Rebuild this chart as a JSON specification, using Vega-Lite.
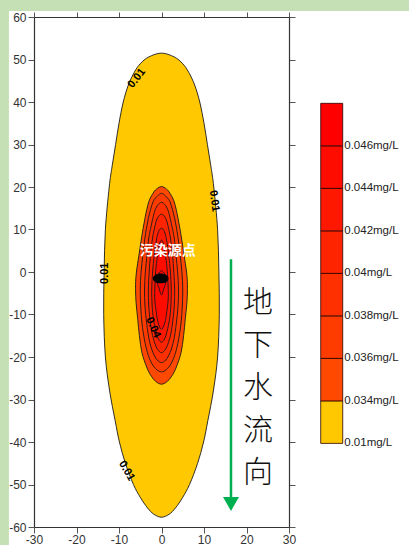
{
  "$schema": "https://vega.github.io/schema/vega-lite/v6.json",
  "width": 255,
  "height": 510,
  "autosize": "none",
  "padding": {"left": 34, "top": 17, "right": 120, "bottom": 18},
  "background": "#C5E0B4",
  "config": {"view": {"stroke": null}},
  "datasets": {
    "iso": [
      {"c": "0.01", "x": 0, "y": 51.5}, {"c": "0.01", "x": 3.0, "y": 50.6}, {"c": "0.01", "x": 5.0, "y": 49.0}, {"c": "0.01", "x": 6.4, "y": 47.0},
      {"c": "0.01", "x": 7.8, "y": 44.0}, {"c": "0.01", "x": 9.0, "y": 40.0}, {"c": "0.01", "x": 10.0, "y": 35.0}, {"c": "0.01", "x": 10.8, "y": 30.0},
      {"c": "0.01", "x": 11.6, "y": 25.0}, {"c": "0.01", "x": 12.3, "y": 20.0}, {"c": "0.01", "x": 13.2, "y": 10.0}, {"c": "0.01", "x": 13.5, "y": 0},
      {"c": "0.01", "x": 13.6, "y": -10}, {"c": "0.01", "x": 13.2, "y": -20}, {"c": "0.01", "x": 12.2, "y": -28}, {"c": "0.01", "x": 10.9, "y": -35},
      {"c": "0.01", "x": 9.9, "y": -40}, {"c": "0.01", "x": 8.5, "y": -45}, {"c": "0.01", "x": 6.6, "y": -50}, {"c": "0.01", "x": 5.0, "y": -53},
      {"c": "0.01", "x": 3.3, "y": -55.5}, {"c": "0.01", "x": 1.8, "y": -57}, {"c": "0.01", "x": 0, "y": -57.7},
      {"c": "0.01", "x": -1.8, "y": -57}, {"c": "0.01", "x": -3.3, "y": -55.5}, {"c": "0.01", "x": -5.0, "y": -53}, {"c": "0.01", "x": -6.6, "y": -50},
      {"c": "0.01", "x": -8.5, "y": -45}, {"c": "0.01", "x": -9.9, "y": -40}, {"c": "0.01", "x": -10.9, "y": -35}, {"c": "0.01", "x": -12.2, "y": -28},
      {"c": "0.01", "x": -13.2, "y": -20}, {"c": "0.01", "x": -13.6, "y": -10}, {"c": "0.01", "x": -13.5, "y": 0}, {"c": "0.01", "x": -13.2, "y": 10},
      {"c": "0.01", "x": -12.3, "y": 20}, {"c": "0.01", "x": -11.6, "y": 25}, {"c": "0.01", "x": -10.8, "y": 30}, {"c": "0.01", "x": -10.0, "y": 35},
      {"c": "0.01", "x": -9.0, "y": 40}, {"c": "0.01", "x": -7.8, "y": 44.0}, {"c": "0.01", "x": -6.4, "y": 47.0}, {"c": "0.01", "x": -5.0, "y": 49.0},
      {"c": "0.01", "x": -3.0, "y": 50.6},

      {"c": "0.034", "x": 0, "y": 20.1}, {"c": "0.034", "x": 1.2, "y": 19.5}, {"c": "0.034", "x": 2.0, "y": 18.5}, {"c": "0.034", "x": 3.0, "y": 16.5},
      {"c": "0.034", "x": 3.9, "y": 12.6}, {"c": "0.034", "x": 4.7, "y": 8}, {"c": "0.034", "x": 5.3, "y": 4}, {"c": "0.034", "x": 5.9, "y": 0},
      {"c": "0.034", "x": 6.1, "y": -3}, {"c": "0.034", "x": 6.0, "y": -7}, {"c": "0.034", "x": 5.6, "y": -11}, {"c": "0.034", "x": 5.2, "y": -15},
      {"c": "0.034", "x": 4.6, "y": -19}, {"c": "0.034", "x": 3.4, "y": -22.6}, {"c": "0.034", "x": 2.4, "y": -24.5}, {"c": "0.034", "x": 1.3, "y": -25.8},
      {"c": "0.034", "x": 0, "y": -26.4},
      {"c": "0.034", "x": -1.3, "y": -25.8}, {"c": "0.034", "x": -2.4, "y": -24.5}, {"c": "0.034", "x": -3.4, "y": -22.6}, {"c": "0.034", "x": -4.6, "y": -19},
      {"c": "0.034", "x": -5.2, "y": -15}, {"c": "0.034", "x": -5.6, "y": -11}, {"c": "0.034", "x": -6.0, "y": -7}, {"c": "0.034", "x": -6.1, "y": -3},
      {"c": "0.034", "x": -5.9, "y": 0}, {"c": "0.034", "x": -5.3, "y": 4}, {"c": "0.034", "x": -4.7, "y": 8}, {"c": "0.034", "x": -3.9, "y": 12.6},
      {"c": "0.034", "x": -3.0, "y": 16.5}, {"c": "0.034", "x": -2.0, "y": 18.5}, {"c": "0.034", "x": -1.2, "y": 19.5},

      {"c": "0.036", "x": 0, "y": 18.5}, {"c": "0.036", "x": 1.0, "y": 17.8}, {"c": "0.036", "x": 2.0, "y": 16.5}, {"c": "0.036", "x": 3.1, "y": 12.6},
      {"c": "0.036", "x": 3.9, "y": 8}, {"c": "0.036", "x": 4.4, "y": 4}, {"c": "0.036", "x": 4.8, "y": 0}, {"c": "0.036", "x": 5.0, "y": -4},
      {"c": "0.036", "x": 4.9, "y": -8}, {"c": "0.036", "x": 4.6, "y": -12}, {"c": "0.036", "x": 4.0, "y": -16}, {"c": "0.036", "x": 3.3, "y": -19},
      {"c": "0.036", "x": 2.3, "y": -21.5}, {"c": "0.036", "x": 1.1, "y": -23}, {"c": "0.036", "x": 0, "y": -23.5},
      {"c": "0.036", "x": -1.1, "y": -23}, {"c": "0.036", "x": -2.3, "y": -21.5}, {"c": "0.036", "x": -3.3, "y": -19}, {"c": "0.036", "x": -4.0, "y": -16},
      {"c": "0.036", "x": -4.6, "y": -12}, {"c": "0.036", "x": -4.9, "y": -8}, {"c": "0.036", "x": -5.0, "y": -4}, {"c": "0.036", "x": -4.8, "y": 0},
      {"c": "0.036", "x": -4.4, "y": 4}, {"c": "0.036", "x": -3.9, "y": 8}, {"c": "0.036", "x": -3.1, "y": 12.6}, {"c": "0.036", "x": -2.0, "y": 16.5},
      {"c": "0.036", "x": -1.0, "y": 17.8},

      {"c": "0.038", "x": 0, "y": 16.4}, {"c": "0.038", "x": 1.0, "y": 15.6}, {"c": "0.038", "x": 1.7, "y": 14}, {"c": "0.038", "x": 2.4, "y": 11},
      {"c": "0.038", "x": 3.0, "y": 8}, {"c": "0.038", "x": 3.4, "y": 4}, {"c": "0.038", "x": 3.8, "y": 0}, {"c": "0.038", "x": 4.0, "y": -4},
      {"c": "0.038", "x": 3.9, "y": -8}, {"c": "0.038", "x": 3.5, "y": -12}, {"c": "0.038", "x": 2.9, "y": -16}, {"c": "0.038", "x": 2.0, "y": -19},
      {"c": "0.038", "x": 1.0, "y": -20.7}, {"c": "0.038", "x": 0, "y": -21.3},
      {"c": "0.038", "x": -1.0, "y": -20.7}, {"c": "0.038", "x": -2.0, "y": -19}, {"c": "0.038", "x": -2.9, "y": -16}, {"c": "0.038", "x": -3.5, "y": -12},
      {"c": "0.038", "x": -3.9, "y": -8}, {"c": "0.038", "x": -4.0, "y": -4}, {"c": "0.038", "x": -3.8, "y": 0}, {"c": "0.038", "x": -3.4, "y": 4},
      {"c": "0.038", "x": -3.0, "y": 8}, {"c": "0.038", "x": -2.4, "y": 11}, {"c": "0.038", "x": -1.7, "y": 14}, {"c": "0.038", "x": -1.0, "y": 15.6},

      {"c": "0.04", "x": 0, "y": 13.6}, {"c": "0.04", "x": 0.9, "y": 12.8}, {"c": "0.04", "x": 1.5, "y": 11}, {"c": "0.04", "x": 2.1, "y": 8},
      {"c": "0.04", "x": 2.6, "y": 4}, {"c": "0.04", "x": 2.9, "y": 0}, {"c": "0.04", "x": 3.1, "y": -4}, {"c": "0.04", "x": 3.0, "y": -8},
      {"c": "0.04", "x": 2.6, "y": -12}, {"c": "0.04", "x": 2.1, "y": -15}, {"c": "0.04", "x": 1.3, "y": -17.5}, {"c": "0.04", "x": 0.6, "y": -18.6},
      {"c": "0.04", "x": 0, "y": -19.0},
      {"c": "0.04", "x": -0.6, "y": -18.6}, {"c": "0.04", "x": -1.3, "y": -17.5}, {"c": "0.04", "x": -2.1, "y": -15}, {"c": "0.04", "x": -2.6, "y": -12},
      {"c": "0.04", "x": -3.0, "y": -8}, {"c": "0.04", "x": -3.1, "y": -4}, {"c": "0.04", "x": -2.9, "y": 0}, {"c": "0.04", "x": -2.6, "y": 4},
      {"c": "0.04", "x": -2.1, "y": 8}, {"c": "0.04", "x": -1.5, "y": 11}, {"c": "0.04", "x": -0.9, "y": 12.8},

      {"c": "0.042", "x": 0, "y": 10.3}, {"c": "0.042", "x": 0.7, "y": 9.5}, {"c": "0.042", "x": 1.2, "y": 7.5}, {"c": "0.042", "x": 1.7, "y": 4},
      {"c": "0.042", "x": 2.1, "y": 0}, {"c": "0.042", "x": 2.3, "y": -4}, {"c": "0.042", "x": 2.2, "y": -8}, {"c": "0.042", "x": 1.9, "y": -11},
      {"c": "0.042", "x": 1.3, "y": -14}, {"c": "0.042", "x": 0.7, "y": -15.8}, {"c": "0.042", "x": 0, "y": -16.5},
      {"c": "0.042", "x": -0.7, "y": -15.8}, {"c": "0.042", "x": -1.3, "y": -14}, {"c": "0.042", "x": -1.9, "y": -11}, {"c": "0.042", "x": -2.2, "y": -8},
      {"c": "0.042", "x": -2.3, "y": -4}, {"c": "0.042", "x": -2.1, "y": 0}, {"c": "0.042", "x": -1.7, "y": 4}, {"c": "0.042", "x": -1.2, "y": 7.5},
      {"c": "0.042", "x": -0.7, "y": 9.5},

      {"c": "0.044", "x": 0, "y": 7.5}, {"c": "0.044", "x": 0.5, "y": 6.5}, {"c": "0.044", "x": 0.8, "y": 4.5}, {"c": "0.044", "x": 1.2, "y": 2},
      {"c": "0.044", "x": 1.5, "y": -2}, {"c": "0.044", "x": 1.6, "y": -6}, {"c": "0.044", "x": 1.3, "y": -9}, {"c": "0.044", "x": 0.9, "y": -11.5},
      {"c": "0.044", "x": 0.4, "y": -13}, {"c": "0.044", "x": 0, "y": -13.5},
      {"c": "0.044", "x": -0.4, "y": -13}, {"c": "0.044", "x": -0.9, "y": -11.5}, {"c": "0.044", "x": -1.3, "y": -9}, {"c": "0.044", "x": -1.6, "y": -6},
      {"c": "0.044", "x": -1.5, "y": -2}, {"c": "0.044", "x": -1.2, "y": 2}, {"c": "0.044", "x": -0.8, "y": 4.5}, {"c": "0.044", "x": -0.5, "y": 6.5},

      {"c": "0.046", "x": 0, "y": 0.3}, {"c": "0.046", "x": 0.8, "y": -0.5}, {"c": "0.046", "x": 1.1, "y": -1.5}, {"c": "0.046", "x": 1.0, "y": -2.6},
      {"c": "0.046", "x": 0.6, "y": -3.8}, {"c": "0.046", "x": 0, "y": -5.4},
      {"c": "0.046", "x": -0.6, "y": -3.8}, {"c": "0.046", "x": -1.0, "y": -2.6}, {"c": "0.046", "x": -1.1, "y": -1.5}, {"c": "0.046", "x": -0.8, "y": -0.5}
    ],
    "tags": [
      {"t": "0.01", "x": -5.8, "y": 45.6, "a": -52},
      {"t": "0.01", "x": 12.4, "y": 16.7, "a": 82},
      {"t": "0.01", "x": -13.4, "y": -0.3, "a": -90},
      {"t": "0.01", "x": -8.2, "y": -46.8, "a": 60},
      {"t": "0.04", "x": -2.0, "y": -13.1, "a": 66}
    ],
    "src": [
      {"x": -0.2, "y": -1.5, "name": "污染源点"}
    ],
    "keys": [
      {"c": "0.01", "k": 0, "k2": 1, "t": "0.01mg/L"},
      {"c": "0.034", "k": 1, "k2": 2, "t": "0.034mg/L"},
      {"c": "0.036", "k": 2, "k2": 3, "t": "0.036mg/L"},
      {"c": "0.038", "k": 3, "k2": 4, "t": "0.038mg/L"},
      {"c": "0.04", "k": 4, "k2": 5, "t": "0.04mg/L"},
      {"c": "0.042", "k": 5, "k2": 6, "t": "0.042mg/L"},
      {"c": "0.044", "k": 6, "k2": 7, "t": "0.044mg/L"},
      {"c": "0.046", "k": 7, "k2": 8, "t": "0.046mg/L"}
    ],
    "one": [{}]
  },
  "layer": [
    {
      "layer": [
        {
          "data": {"name": "one"},
          "mark": {"type": "rect", "color": "white"},
          "encoding": {
            "x": {"datum": -35.9, "type": "quantitative", "axis": null},
            "x2": {"datum": 60},
            "y": {"datum": 61.4, "type": "quantitative", "axis": null},
            "y2": {"datum": -70}
          }
        },
        {
          "data": {"name": "iso"},
          "mark": {"type": "line", "interpolate": "cardinal-closed", "stroke": "#1a1a1a", "strokeWidth": 0.9},
          "encoding": {
            "x": {
              "field": "x", "type": "quantitative",
              "scale": {"domain": [-30, 30], "nice": false, "zero": false},
              "axis": {
                "orient": "bottom", "title": null, "grid": false, "zindex": 1,
                "values": [-30, -20, -10, 0, 10, 20, 30], "labelExpr": "'' + datum.value",
                "tickSize": 6, "labelPadding": 1, "labelFontSize": 12, "labelFont": "Liberation Sans",
                "labelColor": "#333", "domainColor": "#333", "domainWidth": 1.2, "tickColor": "#555",
                "labelFlush": false, "labelOverlap": false
              }
            },
            "y": {
              "field": "y", "type": "quantitative",
              "scale": {"domain": [-60, 60], "nice": false, "zero": false},
              "axis": {
                "orient": "left", "title": null, "grid": false, "zindex": 1,
                "values": [-60, -50, -40, -30, -20, -10, 0, 10, 20, 30, 40, 50, 60], "labelExpr": "'' + datum.value",
                "tickSize": 6, "labelPadding": 2, "labelFontSize": 12, "labelFont": "Liberation Sans",
                "labelColor": "#333", "domainColor": "#333", "domainWidth": 1.2, "tickColor": "#555",
                "labelFlush": false, "labelOverlap": false
              }
            },
            "order": {"value": null},
            "fill": {
              "field": "c", "type": "nominal", "legend": null,
              "scale": {
                "domain": ["0.01", "0.034", "0.036", "0.038", "0.04", "0.042", "0.044", "0.046"],
                "range": ["#FFC800", "#FF4800", "#FF3C00", "#FF3000", "#FF2400", "#FF1800", "#FF0C00", "#FF0000"]
              }
            }
          }
        },
        {
          "data": {"name": "tags"},
          "mark": {"type": "text", "font": "Liberation Sans", "fontWeight": "bold", "fontSize": 11, "color": "#000", "baseline": "middle", "align": "center"},
          "encoding": {
            "x": {
              "field": "x", "type": "quantitative",
              "axis": {
                "orient": "top", "title": null, "grid": false, "labels": false, "zindex": 1,
                "values": [-30, -20, -10, 0, 10, 20, 30],
                "tickSize": 5, "domainColor": "#333", "domainWidth": 1.2, "tickColor": "#555"
              }
            },
            "y": {
              "field": "y", "type": "quantitative",
              "axis": {
                "orient": "right", "title": null, "grid": false, "labels": false, "zindex": 1,
                "values": [-60, -50, -40, -30, -20, -10, 0, 10, 20, 30, 40, 50, 60],
                "tickSize": 6, "domainColor": "#333", "domainWidth": 1.2, "tickColor": "#555"
              }
            },
            "text": {"field": "t"},
            "angle": {"field": "a", "type": "quantitative", "scale": null}
          }
        },
        {
          "data": {"name": "src"},
          "mark": {"type": "point", "shape": "M-1,0A1,0.64,0,1,1,1,0A1,0.64,0,1,1,-1,0Z", "size": 243, "filled": true, "color": "#000", "opacity": 1},
          "encoding": {
            "x": {"field": "x", "type": "quantitative", "axis": null},
            "y": {"field": "y", "type": "quantitative", "axis": null}
          }
        },
        {
          "data": {"name": "src"},
          "mark": {"type": "text", "font": "Noto Sans CJK SC", "fontWeight": "bold", "fontSize": 14, "color": "white", "dx": 7, "dy": -27, "align": "center", "baseline": "middle"},
          "encoding": {
            "x": {"field": "x", "type": "quantitative", "axis": null},
            "y": {"field": "y", "type": "quantitative", "axis": null},
            "text": {"field": "name"}
          }
        },
        {
          "data": {"name": "one"},
          "mark": {"type": "rule", "color": "#00B050", "strokeWidth": 2.5},
          "encoding": {
            "x": {"datum": 16.35, "type": "quantitative", "axis": null},
            "y": {"datum": 3.0, "type": "quantitative", "axis": null},
            "y2": {"datum": -53}
          }
        },
        {
          "data": {"name": "one"},
          "mark": {"type": "point", "shape": "triangle-down", "size": 256, "filled": true, "color": "#00B050", "opacity": 1},
          "encoding": {
            "x": {"datum": 16.35, "type": "quantitative", "axis": null},
            "y": {"datum": -54.6, "type": "quantitative", "axis": null}
          }
        },
        {
          "data": {"name": "one"},
          "mark": {
            "type": "text", "text": ["地", "下", "水", "流", "向"], "lineHeight": 42.5,
            "font": "Noto Sans CJK SC", "fontWeight": 300, "fontSize": 30, "color": "#111",
            "align": "center", "baseline": "middle"
          },
          "encoding": {
            "x": {"datum": 22.7, "type": "quantitative", "axis": null},
            "y": {"datum": -7.3, "type": "quantitative", "axis": null}
          }
        }
      ],
      "resolve": {"axis": {"x": "independent", "y": "independent"}}
    },
    {
      "data": {"name": "keys"},
      "encoding": {
        "y": {"field": "k", "type": "quantitative", "scale": {"domain": [-1.967, 10.031], "nice": false, "zero": false}, "axis": null}
      },
      "layer": [
        {
          "mark": {"type": "rect", "stroke": "#2a0000", "strokeWidth": 0.8},
          "encoding": {
            "x": {"datum": 37.46, "type": "quantitative", "axis": null},
            "x2": {"datum": 42.64},
            "y2": {"field": "k2"},
            "fill": {
              "field": "c", "type": "nominal", "legend": null,
              "scale": {
                "domain": ["0.01", "0.034", "0.036", "0.038", "0.04", "0.042", "0.044", "0.046"],
                "range": ["#FFC800", "#FF4800", "#FF3C00", "#FF3000", "#FF2400", "#FF1800", "#FF0C00", "#FF0000"]
              }
            }
          }
        },
        {
          "mark": {"type": "text", "font": "Liberation Sans", "fontSize": 11.5, "color": "#222", "align": "left", "baseline": "middle"},
          "encoding": {
            "x": {"datum": 43.0, "type": "quantitative", "axis": null},
            "text": {"field": "t"}
          }
        }
      ]
    }
  ],
  "resolve": {"scale": {"y": "independent"}, "axis": {"x": "independent", "y": "independent"}}
}
